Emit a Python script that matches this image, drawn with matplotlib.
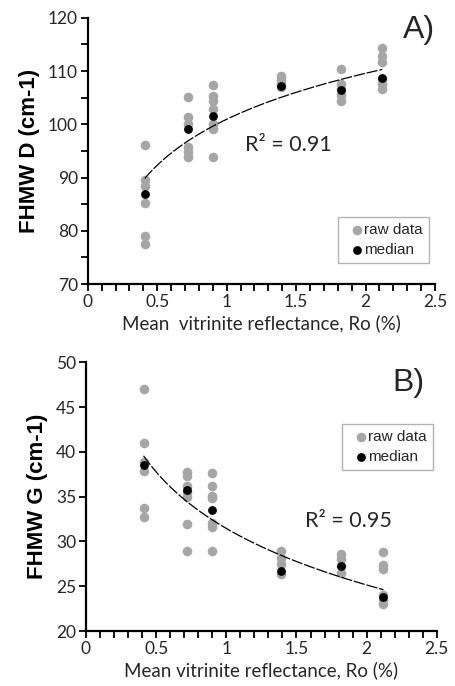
import numpy as np
import matplotlib
matplotlib.use('Agg')
import matplotlib.pyplot as plt
from matplotlib.ticker import MultipleLocator

# ── Data ─────────────────────────────────────────────────────────────────────

RO_GROUPS = [0.41, 0.72, 0.90, 1.39, 1.82, 2.12]

# Panel A: FHMW D (cm-1)
D_RAW = [
    [96.1, 89.6, 88.4, 85.3, 79.0, 77.5],
    [105.2, 101.4, 100.0, 95.7, 94.8, 93.9],
    [107.4, 105.3, 104.3, 102.9, 100.0, 99.2, 93.9],
    [109.0, 108.3, 107.6, 107.0],
    [110.4, 107.6, 106.6, 105.5, 104.4],
    [114.3, 112.9, 111.7, 108.5, 107.5, 106.7],
]
D_MEDIAN = [86.9, 99.2, 101.6, 107.2, 106.5, 108.7]

# Panel B: FHMW G (cm-1)
G_RAW = [
    [47.0, 41.0, 38.9, 37.9, 33.7, 32.7],
    [37.8, 37.3, 36.2, 35.5, 35.0, 32.0, 28.9],
    [37.6, 36.2, 35.1, 34.8, 32.1, 31.6, 28.9],
    [28.9, 28.2, 27.5, 26.4],
    [28.6, 28.0, 27.3, 26.5],
    [28.8, 27.4, 26.9, 24.0, 23.5, 23.0],
]
G_MEDIAN = [38.5, 35.7, 33.5, 26.7, 27.3, 23.8]

XLABEL_A = 'Mean  vitrinite reflectance, Ro (%)'
XLABEL_B = 'Mean vitrinite reflectance, Ro (%)'

GREY = '#a6a6a6'
TEXT = '#262626'
TICK_FONT = 'Lato'
BOLD_FONT = 'Liberation Sans'


def draw_panel(ax, raw, median, ylim, ystep, yminor, ylabel, xlabel,
               r2_text, r2_pos, tag, tag_pos, legend_loc, legend_anchor):
    # raw points, one column per sample
    for x, vals in zip(RO_GROUPS, raw):
        ax.scatter([x] * len(vals), vals, s=48, color=GREY, lw=0, zorder=2)
    ax.scatter(RO_GROUPS, median, s=40, color='black', lw=0, zorder=3)

    # logarithmic trend line fitted to the medians (as in Excel)
    lx = np.log(RO_GROUPS)
    b, a = np.polyfit(lx, median, 1)
    xs = np.linspace(RO_GROUPS[0], RO_GROUPS[-1], 200)
    ax.plot(xs, a + b * np.log(xs), color='black', lw=0.9,
            dashes=(9, 1.5), zorder=4)

    # legend proxies
    h1 = ax.scatter([], [], s=48, color=GREY, lw=0, label='raw data')
    h2 = ax.scatter([], [], s=40, color='black', lw=0, label='median')
    leg = ax.legend(handles=[h1, h2], loc=legend_loc,
                    bbox_to_anchor=legend_anchor, borderaxespad=0,
                    frameon=True, fancybox=False, edgecolor='#a0a0a0',
                    handletextpad=-0.4, handlelength=1.7, borderpad=0.4,
                    labelspacing=0.4, prop={'family': BOLD_FONT, 'size': 11})
    leg.get_frame().set_linewidth(1.0)
    for t in leg.get_texts():
        t.set_color(TEXT)

    ax.set_xlim(0, 2.5)
    ax.set_ylim(*ylim)
    ax.xaxis.set_major_locator(MultipleLocator(0.5))
    ax.xaxis.set_minor_locator(MultipleLocator(0.1))
    ax.yaxis.set_major_locator(MultipleLocator(ystep))
    if yminor:
        ax.yaxis.set_minor_locator(MultipleLocator(yminor))
    ax.xaxis.set_major_formatter(plt.FuncFormatter(lambda v, p: f'{v:g}'))

    for s in ('top', 'right'):
        ax.spines[s].set_visible(False)
    for s in ('left', 'bottom'):
        ax.spines[s].set_linewidth(1.6)
        ax.spines[s].set_color('black')
    ax.tick_params(which='both', direction='out', width=1.3, color='black',
                   labelsize=12.5, labelcolor=TEXT, pad=2)
    ax.tick_params(which='major', length=5)
    ax.tick_params(which='minor', length=5)
    for lbl in ax.get_xticklabels() + ax.get_yticklabels():
        lbl.set_family(TICK_FONT)

    ax.set_xlabel(xlabel, family=TICK_FONT, fontsize=13.5, color=TEXT,
                  labelpad=3)
    ax.set_ylabel(ylabel, family=BOLD_FONT, fontsize=16, fontweight='bold',
                  color='black', labelpad=6)

    ax.text(r2_pos[0], r2_pos[1], r2_text, family=TICK_FONT, fontsize=15.5,
            color=TEXT, ha='left', va='center')
    ax.text(tag_pos[0], tag_pos[1], tag, transform=ax.transAxes,
            family=BOLD_FONT, fontsize=23, color=TEXT, ha='right', va='center')


fig = plt.figure(figsize=(4.55, 6.86), dpi=100)
ax1 = fig.add_axes([0.193, 0.586, 0.763, 0.388])
ax2 = fig.add_axes([0.189, 0.080, 0.771, 0.392])

draw_panel(ax1, D_RAW, D_MEDIAN, (70, 120), 10, 5, 'FHMW D (cm-1)',
           XLABEL_A, 'R² = 0.91', (1.13, 96.2), 'A)', (1.0, 0.955),
           'lower right', (0.983, 0.079))
draw_panel(ax2, G_RAW, G_MEDIAN, (20, 50), 5, None, 'FHMW G (cm-1)',
           XLABEL_B, 'R² = 0.95', (1.56, 32.3), 'B)', (0.966, 0.922),
           'upper right', (0.989, 0.770))

fig.savefig('out.png', dpi=100)
